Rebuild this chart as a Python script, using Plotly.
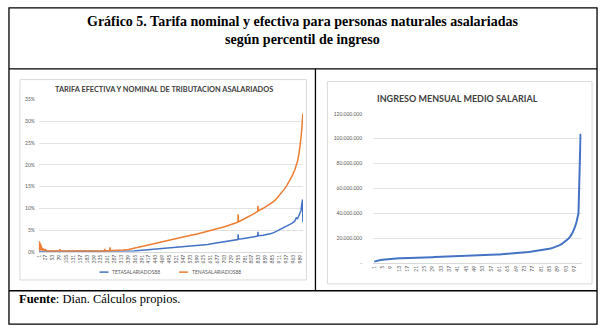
import plotly.graph_objects as go

W, H = 603, 336
def X(px): return px / W
def Y(py): return 1 - py / H

# ---------------- data ----------------
title_main = "Gráfico 5. Tarifa nominal y efectiva para personas naturales asalariadas<br>según percentil de ingreso"
footer_text = "<b>Fuente</b>: Dian. Cálculos propios."

left_title = "TARIFA EFECTIVA Y NOMINAL DE TRIBUTACION ASALARIADOS"
right_title = "INGRESO MENSUAL MEDIO SALARIAL"

name_teta = "TETASALARIADOS88"
name_tena = "TENASALARIADOS88"

left_x = [1, 2, 3, 4, 5, 6, 7, 8, 9, 10, 12, 14, 16, 18, 20, 23, 26, 30, 35, 40, 50, 60, 70, 79, 80, 81,
          90, 100, 120, 140, 160, 180, 200, 220, 240, 249, 250, 251, 260, 269, 270, 271, 280, 300, 320,
          340, 360, 380, 400, 420, 440, 460, 480, 500, 520, 540, 560, 580, 600, 620, 640, 660, 680, 700,
          720, 740, 754, 755, 756, 770, 790, 810, 829, 830, 831, 850, 870, 880, 890, 900, 910, 920, 930,
          940, 950, 960, 970, 975, 980, 985, 990, 993, 996, 998, 999, 1000]

tena = [2.5, 0.3, 1.9, 0.5, 2.1, 0.4, 1.2, 0.3, 1.6, 0.4, 1.0, 0.3, 0.8, 0.3, 0.6, 0.3, 0.5, 0.25, 0.3, 0.2,
        0.2, 0.2, 0.2, 0.2, 0.6, 0.2, 0.2, 0.15, 0.15, 0.15, 0.15, 0.15, 0.15, 0.15, 0.2, 0.2, 0.7, 0.2,
        0.25, 0.25, 1.0, 0.3, 0.3, 0.3, 0.4, 0.5, 0.75, 1.0, 1.3, 1.6, 1.9, 2.2, 2.5, 2.8, 3.1, 3.35, 3.6,
        3.85, 4.1, 4.4, 4.7, 5.0, 5.3, 5.7, 6.1, 6.5, 6.8, 8.6, 6.9, 7.3, 7.9, 8.6, 9.3, 10.6, 9.4, 10.0,
        10.7, 11.1, 11.6, 12.2, 12.9, 13.6, 14.4, 15.3, 16.3, 17.5, 18.9, 19.8, 20.9, 22.4, 24.5, 26.2, 28.3,
        30.0, 31.0, 31.8]

teta = [0.05, 0.05, 0.05, 0.05, 0.05, 0.05, 0.05, 0.05, 0.05, 0.05, 0.05, 0.05, 0.05, 0.05, 0.05, 0.05,
        0.05, 0.05, 0.05, 0.05, 0.05, 0.05, 0.05, 0.05, 0.05, 0.05, 0.05, 0.05, 0.05, 0.05, 0.05, 0.05,
        0.05, 0.05, 0.05, 0.05, 0.05, 0.05, 0.05, 0.05, 0.05, 0.05, 0.05, 0.05, 0.1, 0.15, 0.2, 0.3, 0.4,
        0.5, 0.6, 0.7, 0.8, 0.9, 1.0, 1.1, 1.2, 1.3, 1.4, 1.5, 1.7, 1.9, 2.1, 2.3, 2.5, 2.7, 2.8, 4.0, 2.9,
        3.0, 3.2, 3.4, 3.6, 4.6, 3.7, 3.8, 4.0, 4.2, 4.4, 4.7, 5.0, 5.3, 5.6, 5.9, 6.2, 6.6, 7.1, 7.8,
        7.6, 8.4, 9.0, 9.5, 11.0, 11.8, 12.0, 6.8]

left_tick_vals = [1, 27, 53, 79, 105, 131, 157, 183, 209, 235, 261, 287, 313, 339, 365, 391, 417, 443, 469,
                  495, 521, 547, 573, 599, 625, 651, 677, 703, 729, 755, 781, 807, 833, 859, 885, 911, 937,
                  963, 989]
left_y_ticks = [0, 5, 10, 15, 20, 25, 30, 35]
left_y_labels = ["0%", "5%", "10%", "15%", "20%", "25%", "30%", "35%"]

percentil = list(range(1, 101))
ingreso_millones = [1.0, 1.6, 2.0, 2.35, 2.6, 2.8, 2.95, 3.1, 3.25, 3.35, 3.45, 3.55, 3.65, 3.75, 3.85, 3.95,
                    4.0, 4.05, 4.1, 4.15, 4.2, 4.25, 4.3, 4.35, 4.4, 4.45, 4.5, 4.55, 4.6, 4.65, 4.7, 4.75,
                    4.8, 4.85, 4.9, 4.95, 5.0, 5.05, 5.1, 5.15, 5.2, 5.25, 5.3, 5.35, 5.45, 5.5, 5.55, 5.65,
                    5.7, 5.8, 5.9, 5.95, 6.05, 6.1, 6.2, 6.3, 6.4, 6.5, 6.6, 6.7, 6.8, 6.9, 7.0, 7.1, 7.25,
                    7.35, 7.5, 7.6, 7.75, 7.9, 8.05, 8.2, 8.35, 8.5, 8.7, 8.9, 9.1, 9.3, 9.5, 9.75, 10.0,
                    10.3, 10.6, 10.9, 11.3, 11.7, 12.2, 12.8, 13.5, 14.3, 15.2, 16.3, 17.6, 19.2, 21.2,
                    23.8, 27.5, 32.5, 40.0, 104.0]
right_tick_vals = [1, 5, 9, 13, 17, 21, 25, 29, 33, 37, 41, 45, 49, 53, 57, 61, 65, 69, 73, 77, 81, 85, 89,
                   93, 97]
right_y_ticks = [0, 20, 40, 60, 80, 100, 120]
right_y_labels = ["-", "20.000.000", "40.000.000", "60.000.000", "80.000.000", "100.000.000", "120.000.000"]

# ---------------- styles ----------------
BLUE = "#4472C4"
ORANGE = "#ED7D31"
GRID = "#e3e3e3"
TICK = "#595959"
FONT = "Lato"
SERIF = "Liberation Serif"

fig = go.Figure()
fig.add_trace(go.Scatter(x=left_x, y=teta, mode="lines", name=name_teta,
                         line=dict(color=BLUE, width=1.5), xaxis="x", yaxis="y", showlegend=False))
fig.add_trace(go.Scatter(x=left_x, y=tena, mode="lines", name=name_tena,
                         line=dict(color=ORANGE, width=1.5), xaxis="x", yaxis="y", showlegend=False))
fig.add_trace(go.Scatter(x=percentil, y=ingreso_millones, mode="lines", name="Ingreso",
                         line=dict(color=BLUE, width=2), xaxis="x2", yaxis="y2", showlegend=False))

tickfont = dict(family=FONT, size=5, color=TICK)

fig.update_layout(
    width=W, height=H, margin=dict(l=0, r=0, t=0, b=0),
    paper_bgcolor="white", plot_bgcolor="rgba(0,0,0,0)",
    xaxis=dict(domain=[X(36), X(301.5)], range=[0.5, 1000.5], anchor="y",
               tickvals=left_tick_vals, ticktext=[str(v) for v in left_tick_vals],
               tickangle=-90, tickfont=tickfont, showgrid=False, zeroline=False,
               showline=True, linecolor="#d9d9d9", linewidth=1, ticks=""),
    yaxis=dict(domain=[Y(253.3), Y(98.3)], range=[0, 35], anchor="x",
               tickvals=left_y_ticks, ticktext=left_y_labels, tickfont=tickfont,
               showgrid=True, gridcolor=GRID, gridwidth=1, zeroline=False, ticks="",
               ticklabelstandoff=3),
    xaxis2=dict(domain=[X(372), X(581.5)], range=[0.5, 100.5], anchor="y2",
                tickvals=right_tick_vals, ticktext=[str(v) for v in right_tick_vals],
                tickangle=-90, tickfont=tickfont, showgrid=False, zeroline=False,
                showline=True, linecolor="#d9d9d9", linewidth=1, ticks=""),
    yaxis2=dict(domain=[Y(264.6), Y(112.8)], range=[0, 120], anchor="x2",
                tickvals=right_y_ticks, ticktext=right_y_labels, tickfont=tickfont,
                showgrid=True, gridcolor=GRID, gridwidth=1, zeroline=False, ticks="",
                ticklabelstandoff=10),
)

shapes = []
line_k = dict(color="black", width=1.3)
shapes.append(dict(type="rect", xref="paper", yref="paper", x0=X(6), x1=X(597), y0=Y(327), y1=Y(5), line=line_k))
shapes.append(dict(type="line", xref="paper", yref="paper", x0=X(6), x1=X(597), y0=Y(67), y1=Y(67), line=line_k))
shapes.append(dict(type="line", xref="paper", yref="paper", x0=X(6), x1=X(597), y0=Y(293), y1=Y(293), line=line_k))
shapes.append(dict(type="line", xref="paper", yref="paper", x0=X(314), x1=X(314), y0=Y(293), y1=Y(67), line=line_k))
card = dict(color="#d9d9d9", width=1)
shapes.append(dict(type="rect", xref="paper", yref="paper", x0=X(17), x1=X(305), y0=Y(282), y1=Y(78), line=card, layer="below"))
shapes.append(dict(type="rect", xref="paper", yref="paper", x0=X(326), x1=X(592), y0=Y(286), y1=Y(80), line=card, layer="below"))
shapes.append(dict(type="line", xref="paper", yref="paper", x0=X(97), x1=X(106), y0=Y(274), y1=Y(274), line=dict(color=BLUE, width=1.5)))
shapes.append(dict(type="line", xref="paper", yref="paper", x0=X(177), x1=X(186), y0=Y(274), y1=Y(274), line=dict(color=ORANGE, width=1.5)))
fig.update_layout(shapes=shapes)

ann = []
ann.append(dict(text=f"<b>{title_main}</b>", x=X(301), y=Y(28), xref="paper", yref="paper",
                showarrow=False, xanchor="center", yanchor="middle",
                font=dict(family=SERIF, size=14, color="black")))
ann.append(dict(text=footer_text, x=X(14), y=Y(301), xref="paper", yref="paper",
                showarrow=False, xanchor="left", yanchor="middle",
                font=dict(family=SERIF, size=12.5, color="black")))
ann.append(dict(text=f"<b>{left_title}</b>", x=X(162), y=Y(88), xref="paper", yref="paper",
                showarrow=False, xanchor="center", yanchor="middle",
                font=dict(family=FONT, size=7.4, color="#404040")))
ann.append(dict(text=f"<b>{right_title}</b>", x=X(457), y=Y(97), xref="paper", yref="paper",
                showarrow=False, xanchor="center", yanchor="middle",
                font=dict(family=FONT, size=9, color="#404040")))
ann.append(dict(text=name_teta, x=X(108), y=Y(274), xref="paper", yref="paper",
                showarrow=False, xanchor="left", yanchor="middle",
                font=dict(family=FONT, size=5, color=TICK)))
ann.append(dict(text=name_tena, x=X(188), y=Y(274), xref="paper", yref="paper",
                showarrow=False, xanchor="left", yanchor="middle",
                font=dict(family=FONT, size=5, color=TICK)))
fig.update_layout(annotations=ann)

fig.write_html("out.html")
